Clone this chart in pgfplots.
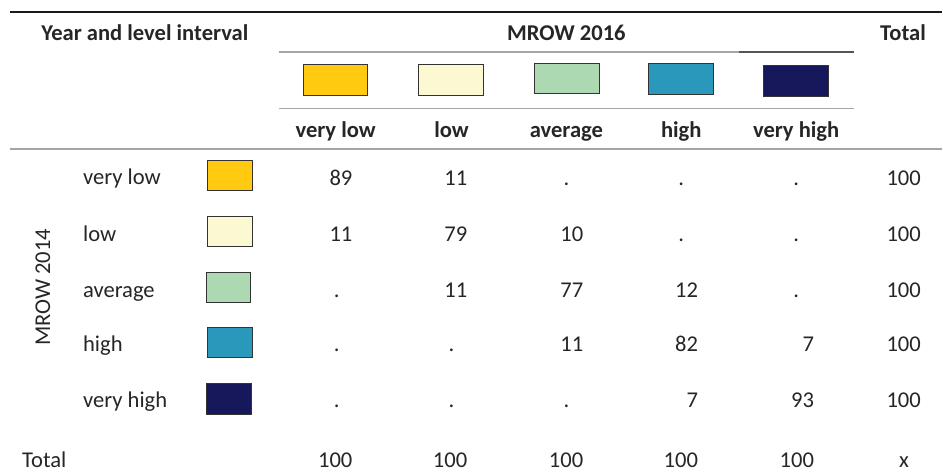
\documentclass[border=0pt]{standalone}
\usepackage{fontspec}
\setmainfont{Carlito}
\usepackage{pgfplots}
\usepackage{pgfplotstable}
\pgfplotsset{compat=1.18}
\definecolor{cvl}{HTML}{FFCA10}
\definecolor{cl}{HTML}{FCF9D2}
\definecolor{cavg}{HTML}{ACD8B2}
\definecolor{chigh}{HTML}{2A98BA}
\definecolor{cvh}{HTML}{17185C}
\definecolor{boxline}{HTML}{333333}
\definecolor{txt}{HTML}{262626}
\definecolor{rulegray}{HTML}{A6A6A6}
\definecolor{ruledark}{HTML}{555555}
\newcommand{\cbox}[5]{\addplot[fill=#1, draw=boxline, line width=1pt, mark=none, forget plot] coordinates {(#2,#3)(#4,#3)(#4,#5)(#2,#5)} -- cycle;}
\newcommand{\hl}[5]{\addplot[draw=#1, line width=#2, mark=none, forget plot] coordinates {(#3,#5)(#4,#5)};}
\pgfplotstableread{
x y label
353 186 89
468 186 11
922 186 100
353 242 11
468 242 79
584 242 10
922 242 100
468 297.5 11
584 297.5 77
699 297.5 12
922 297.5 100
584 352 11
699 352 82
815 352 7
922 352 100
699 408 7
815 408 93
922 408 100
353 468 100
468 468 100
584 468 100
699 468 100
815 468 100
}\nums
\pgfplotstableread{
x y
567 186
682 186
797 186
682 242
797 242
337 297.5
797 297.5
337 352
452 352
337 408
452 408
567 408
}\dots
\begin{document}
\fontsize{22.6}{26}\selectfont
\color{txt}
\begin{tikzpicture}
\begin{axis}[scale only axis, width=943pt, height=474pt,
  xmin=0, xmax=943, ymin=0, ymax=474, y dir=reverse,
  hide axis, clip=false]
\addplot[draw=none, mark=none, forget plot] coordinates {(0,0)(943,474)};
% rules
\hl{black!90}{2pt}{10}{943}{12.3}
\hl{rulegray}{1.2pt}{279}{740}{52}
\hl{ruledark}{1.2pt}{740}{855}{52}
\hl{rulegray}{1.2pt}{279}{855}{109}
\hl{rulegray}{1.4pt}{10}{943}{149}
% header boxes
\cbox{cvl}{304}{65}{368}{96}
\cbox{cl}{419}{65}{484}{96}
\cbox{cavg}{535}{64}{600}{94}
\cbox{chigh}{649}{64}{714}{95}
\cbox{cvh}{764}{66}{829}{97}
% row boxes
\cbox{cvl}{208}{161}{253}{191}
\cbox{cl}{208}{217}{253}{247}
\cbox{cavg}{207}{273}{251}{303}
\cbox{chigh}{208}{328}{253}{358}
\cbox{cvh}{207}{384}{252}{415}
% numbers
\addplot[only marks, mark=none, point meta=explicit symbolic,
  nodes near coords={\pgfplotspointmeta},
  nodes near coords style={anchor=base east, inner sep=0pt, text=txt}]
  table[x=x, y=y, meta=label] {\nums};
\addplot[only marks, mark=none,
  nodes near coords={.},
  nodes near coords style={anchor=base, inner sep=0pt, text=txt}]
  table[x=x, y=y] {\dots};
\addplot[only marks, mark=none,
  nodes near coords={x},
  nodes near coords style={anchor=base, inner sep=0pt, text=txt}]
  coordinates {(905,468)};
% header texts
\node[anchor=base, inner sep=0pt, font=\bfseries] at (axis cs:145,41) {Year and level interval};
\node[anchor=base, inner sep=0pt, font=\bfseries] at (axis cs:567,41) {MROW 2016};
\node[anchor=base, inner sep=0pt, font=\bfseries] at (axis cs:904,41) {Total};
\node[anchor=base, inner sep=0pt, font=\bfseries] at (axis cs:336,138) {very low};
\node[anchor=base, inner sep=0pt, font=\bfseries] at (axis cs:452,138) {low};
\node[anchor=base, inner sep=0pt, font=\bfseries] at (axis cs:567,138) {average};
\node[anchor=base, inner sep=0pt, font=\bfseries] at (axis cs:682,138) {high};
\node[anchor=base, inner sep=0pt, font=\bfseries] at (axis cs:797,138) {very high};
% row labels
\node[anchor=base west, inner sep=0pt] at (axis cs:83,185) {very low};
\node[anchor=base west, inner sep=0pt] at (axis cs:83,241.5) {low};
\node[anchor=base west, inner sep=0pt] at (axis cs:83,297.5) {average};
\node[anchor=base west, inner sep=0pt] at (axis cs:83,352) {high};
\node[anchor=base west, inner sep=0pt] at (axis cs:83,408) {very high};
\node[anchor=base west, inner sep=0pt] at (axis cs:22,468) {Total};
\node[rotate=90, inner sep=0pt] at (axis cs:43,287.5) {MROW 2014};
\end{axis}
\end{tikzpicture}
\end{document}
